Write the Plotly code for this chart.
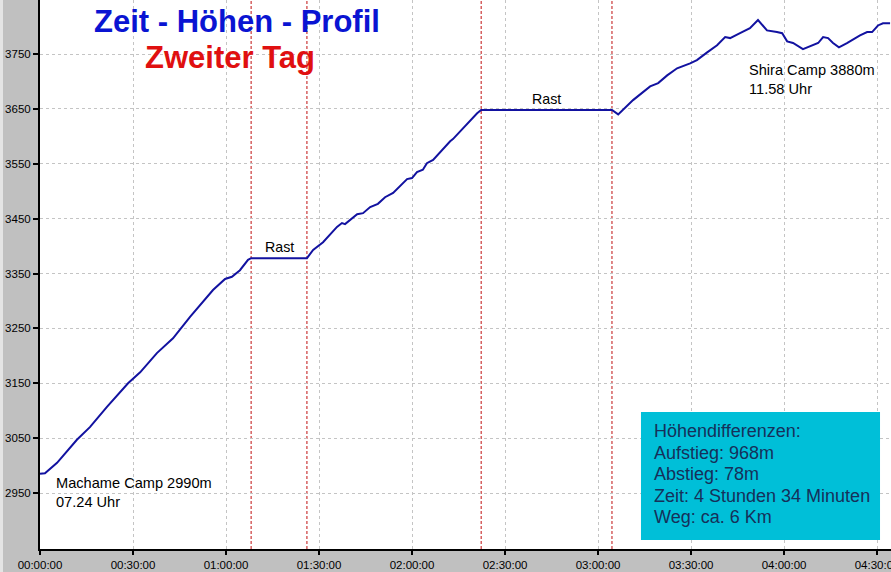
import plotly.graph_objects as go

# elapsed minutes since 07:24 and elevation in metres
minutes = [0, 1.6, 5.5, 11.9, 16.1, 21.6, 28.4, 32.3, 37.7, 42.9, 48.4, 55.8, 59.7, 61.9, 64.5, 67.1, 68.1,
           86.1, 88.1, 91.3, 95.8, 97.4, 98.4, 100, 102.3, 104.2, 106.5, 109, 111.3, 113.9, 118.4, 120,
           121.6, 123.5, 124.8, 126.8, 129, 132.3, 133.2, 136.5, 141, 142.3,
           184.5, 186.5, 191.3, 196.8, 199.4, 202.3, 205.5, 209.7, 211.9, 215.2, 218.4, 221, 222.6,
           225.8, 229, 231.6, 234.5, 237.7, 239.4, 241, 242.9, 246.1, 249.4, 251, 252.6, 254.2,
           255.8, 257.7, 260.3, 264.5, 266.8, 268.4, 270.3, 271.9, 274.2]
elevation = [2985, 2986, 3005, 3047, 3070, 3107, 3150, 3170, 3205, 3232, 3271, 3320, 3340, 3344, 3356, 3375, 3378,
             3378, 3393, 3407, 3435, 3442, 3440, 3447, 3458, 3460, 3471, 3477, 3489, 3497, 3522, 3524,
             3535, 3539, 3551, 3557, 3571, 3591, 3595, 3615, 3642, 3648,
             3648, 3640, 3666, 3691, 3697, 3711, 3724, 3733, 3739, 3753, 3766, 3781, 3779,
             3788, 3797, 3812, 3793, 3790, 3788, 3773, 3770, 3759, 3766, 3770, 3781, 3779,
             3770, 3762, 3770, 3784, 3790, 3790, 3802, 3806, 3806]

rest_times = [68.1, 86.1, 142.3, 184.5]
rest_labels = ["Rast", "Rast"]
rest_levels = [3378, 3648]

x_tickvals = [0, 30, 60, 90, 120, 150, 180, 210, 240, 270]
x_ticktext = ["00:00:00", "00:30:00", "01:00:00", "01:30:00", "02:00:00",
              "02:30:00", "03:00:00", "03:30:00", "04:00:00", "04:30:00"]
y_tickvals = [2950, 3050, 3150, 3250, 3350, 3450, 3550, 3650, 3750]

title_main = "Zeit - Höhen - Profil"
title_sub = "Zweiter Tag"
start_label = "Machame Camp 2990m<br>07.24 Uhr"
end_label = "Shira Camp 3880m<br>11.58 Uhr"
info_lines = ["Höhendifferenzen:", "Aufstieg: 968m", "Abstieg: 78m",
              "Zeit: 4 Stunden 34 Minuten", "Weg: ca. 6 Km"]

FONT = "Arial, Liberation Sans, sans-serif"
PLOT_H = 549.0

fig = go.Figure()
fig.add_trace(go.Scatter(x=minutes, y=elevation, mode="lines",
                         line=dict(color="#1212a0", width=2), hoverinfo="skip"))

shapes = []
for t in rest_times:
    shapes.append(dict(type="line", xref="x", yref="paper", x0=t, x1=t, y0=0, y1=1,
                       line=dict(color="#c01010", width=1, dash="3px,2px"), layer="below"))
# info box
shapes.append(dict(type="rect", xref="paper", yref="paper", x0=0.7062, x1=0.9871, y0=0.0164, y1=0.2495,
                   fillcolor="#00bfd8", line=dict(width=0), layer="above"))
# light strip at the left edge of the frame
shapes.append(dict(type="rect", xref="paper", yref="paper", x0=-40 / 851, x1=-37 / 851, y0=-23 / PLOT_H, y1=1,
                   fillcolor="#e4e4e4", line=dict(width=0), layer="below"))

annotations = [
    dict(text="<b>" + title_main + "</b>", xref="paper", yref="paper", x=0.2315, y=0.960,
         xanchor="center", yanchor="middle", showarrow=False,
         font=dict(family=FONT, size=31, color="#0a14d2")),
    dict(text="<b>" + title_sub + "</b>", xref="paper", yref="paper", x=0.2233, y=0.896,
         xanchor="center", yanchor="middle", showarrow=False,
         font=dict(family=FONT, size=31, color="#e01010")),
    dict(text=start_label, xref="x", yref="paper", x=4.5, y=0.1025, xanchor="left", yanchor="middle",
         align="left", showarrow=False, font=dict(family=FONT, size=14.6, color="black")),
    dict(text=end_label, xref="x", yref="paper", x=228, y=0.855, xanchor="left", yanchor="middle",
         align="left", showarrow=False, font=dict(family=FONT, size=14.6, color="black")),
]
info_y = [431, 452.5, 474, 495.5, 517]
for line, py in zip(info_lines, info_y):
    annotations.append(dict(text=line, xref="paper", yref="paper", x=(652 - 40) / 851, y=1 - py / PLOT_H,
                            xanchor="left", yanchor="middle", align="left", showarrow=False,
                            font=dict(family=FONT, size=18, color="#16305a")))
for i, lab in enumerate(rest_labels):
    t_mid = (rest_times[2 * i] + rest_times[2 * i + 1]) / 2
    annotations.append(dict(text=lab, x=t_mid, y=rest_levels[i], xref="x", yref="y",
                            yanchor="bottom", yshift=1, showarrow=False,
                            font=dict(family=FONT, size=14.2, color="black")))

fig.update_layout(
    width=891, height=572,
    margin=dict(l=40, r=0, t=0, b=23, autoexpand=False),
    paper_bgcolor="#c0c0c0", plot_bgcolor="white",
    showlegend=False,
    shapes=shapes, annotations=annotations,
    font=dict(family=FONT, size=11, color="black"),
)
fig.update_xaxes(range=[0, 274.5], tickvals=x_tickvals, ticktext=x_ticktext,
                 showgrid=True, gridcolor="#c4c4c4", griddash="3px,3px", gridwidth=1,
                 showline=True, linecolor="black", linewidth=2,
                 ticks="outside", ticklen=4, tickcolor="black", tickwidth=2,
                 ticklabeloverflow="allow", automargin=False,
                 tickfont=dict(family=FONT, size=11.5, color="black"), zeroline=False)
fig.update_yaxes(range=[2848, 3848.4], tickvals=y_tickvals,
                 showgrid=True, gridcolor="#c4c4c4", griddash="3px,3px", gridwidth=1,
                 showline=True, linecolor="black", linewidth=2,
                 ticks="outside", ticklen=5, tickcolor="black", tickwidth=2,
                 ticklabelstandoff=0, automargin=False,
                 tickfont=dict(family=FONT, size=11.5, color="black"), zeroline=False)

fig.write_html("out.html")
